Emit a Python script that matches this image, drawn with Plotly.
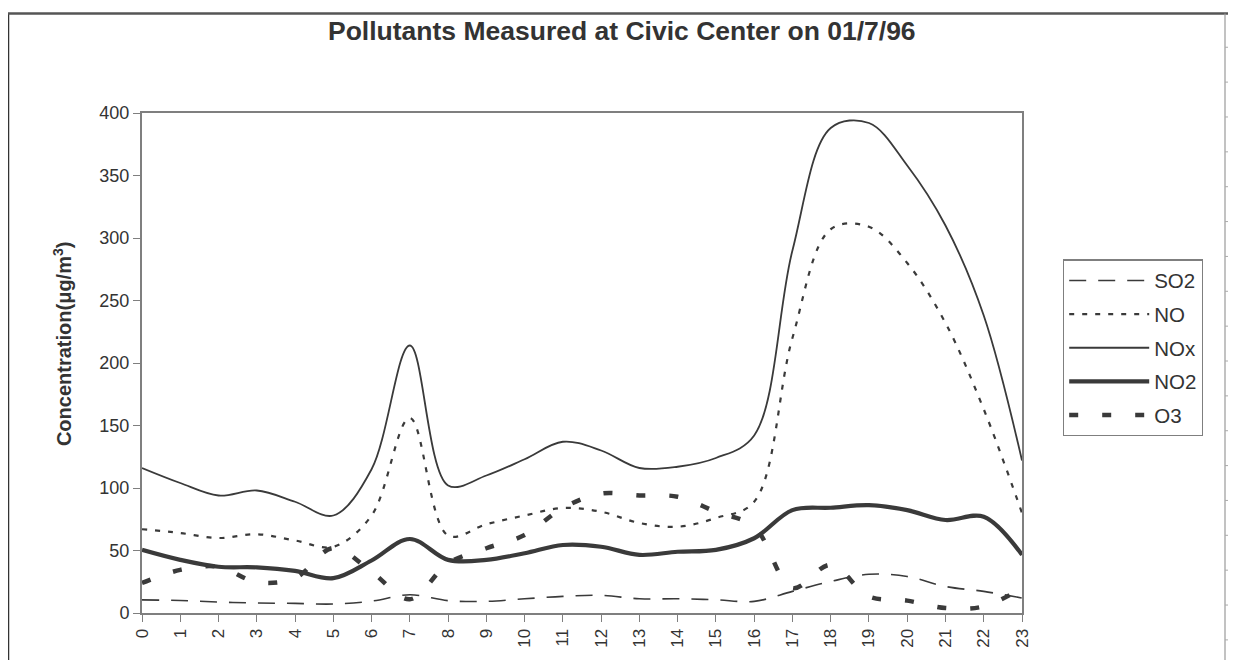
import plotly.graph_objects as go

hours = list(range(24))
so2 = [10.5, 10, 8.8, 8, 7.7, 7.2, 9.5, 14.6, 9.9, 9.3, 11.4, 13.3, 14.1, 11.4, 11.4, 10.6, 9.3, 17.3, 25.2, 31, 29.2, 21.2, 17.3, 12]
no = [67, 64, 60, 63, 58, 53, 78, 156, 62, 71, 78, 84, 81, 72, 69, 76, 89, 220, 307, 309, 280, 232, 163, 80]
nox = [116, 104, 94, 98, 89, 78, 115, 214, 102, 110, 123, 137, 130, 116, 117, 124, 142, 290, 388, 392, 358, 310, 238, 122]
no2 = [50.5, 42.5, 37, 36.5, 33.7, 27.9, 42, 59.2, 42.5, 42.5, 47.8, 54.4, 53, 46.5, 49, 50.5, 59.8, 82.3, 84.2, 86.3, 82.3, 74.4, 77, 46.5]
o3 = [24, 34.5, 37, 24.7, 27.9, 52, 33, 11, 39.8, 51.8, 62.4, 84, 95.6, 94, 93, 81, 69, 20, 38.5, 13.3, 9.9, 4, 5.3, 20]

names = ["SO2", "NO", "NOx", "NO2", "O3"]
series = [so2, no, nox, no2, o3]
widths = [1.6, 2.2, 1.8, 4.2, 4.5]
dashes = ["17px,12px", "5px,8px", "solid", "solid", "9px,24px"]
line_color = "#3a3a3a"
grey = "#7f7f7f"

fig = go.Figure()
for nm, ys, w, d in zip(names, series, widths, dashes):
    fig.add_trace(go.Scatter(
        x=hours, y=ys, name=nm, mode="lines", legendgroup=nm,
        line=dict(color=line_color, width=w, dash=d, shape="spline", smoothing=1.0),
    ))

# page offset (browser body margin)
OFF = 8
W, H = 1236 - OFF, 660 - OFF
# plot area in page pixels
L, R, T, B = 142, 1022, 113, 615


def px(x):
    return (x - L) / (R - L)


def py(y):
    return (B - y) / (B - T)


shapes = []
# outer chart frame
shapes.append(dict(type="line", xref="paper", yref="paper", x0=px(8), x1=px(8), y0=py(13), y1=py(680),
                   line=dict(color="#333", width=2.5)))
shapes.append(dict(type="line", xref="paper", yref="paper", x0=px(8), x1=px(1240), y0=py(13), y1=py(13),
                   line=dict(color="#555", width=2.5)))
shapes.append(dict(type="line", xref="paper", yref="paper", x0=px(1225), x1=px(1225), y0=py(13), y1=py(680),
                   line=dict(color="#999", width=1.2)))
for ty in range(47, 660, 35):
    shapes.append(dict(type="line", xref="paper", yref="paper", x0=px(1225), x1=px(1240), y0=py(ty), y1=py(ty),
                       line=dict(color="#aaa", width=1)))

fig.update_layout(
    width=W, height=H,
    margin=dict(l=L - OFF, r=W - (R - OFF), t=T - OFF, b=H - (B - OFF), pad=0),
    paper_bgcolor="white", plot_bgcolor="white",
    font=dict(family="Liberation Sans, Arial, sans-serif", color="#333", size=17),
    showlegend=True,
    legend=dict(x=px(1063), y=py(260), xanchor="left", yanchor="top",
                bordercolor=grey, borderwidth=1.2, bgcolor="white",
                font=dict(size=20.5, color="#333"), itemwidth=80, tracegroupgap=4),
    shapes=shapes,
    annotations=[
        dict(text="<b>Pollutants Measured at Civic Center on 01/7/96</b>", xref="paper", yref="paper",
             x=px(622), y=py(31), xanchor="center", yanchor="middle", showarrow=False,
             font=dict(size=26.5, color="#333")),
        dict(text="<b>Concentration(μg/m<sup>3</sup>)</b>", xref="paper", yref="paper",
             x=px(62), y=py(345), xanchor="center", yanchor="middle", showarrow=False, textangle=-90,
             font=dict(size=20, color="#333")),
    ],
)
fig.update_xaxes(range=[0, 23], tickmode="array", tickvals=hours, ticktext=[str(h) for h in hours],
                 tickangle=-90, ticks="outside", ticklen=7, tickcolor=grey, showgrid=False, zeroline=False,
                 showline=True, linecolor=grey, linewidth=2, mirror=True, tickfont=dict(size=17, color="#333"))
fig.update_yaxes(range=[0, 400], dtick=50, ticks="outside", ticklen=7, tickcolor=grey, showgrid=False,
                 zeroline=False, showline=True, linecolor=grey, linewidth=2, mirror=True,
                 tickfont=dict(size=18, color="#333"))

fig.write_html("out.html")
